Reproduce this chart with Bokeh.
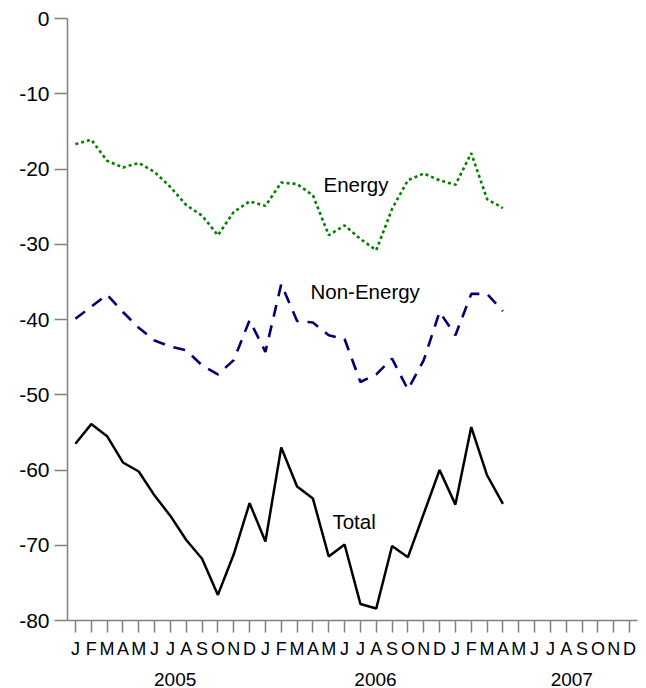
from bokeh.plotting import figure
from bokeh.models import Range1d, FixedTicker, LinearAxis
from bokeh.core.properties import value
from bokeh.embed import file_html
from bokeh.resources import INLINE

# ---- data (Jan 2005 .. Apr 2007) ----
month_letters = ["J", "F", "M", "A", "M", "J", "J", "A", "S", "O", "N", "D"]
tick_labels = month_letters * 3
years = ["2005", "2006", "2007"]
year_pos = [6.3, 18.95, 31.35]

energy = [-16.7, -16.1, -18.9, -19.8, -19.2, -20.4, -22.4, -24.8, -26.2, -28.8,
          -25.7, -24.3, -24.9, -21.8, -22.0, -23.5, -28.8, -27.5, -29.3, -30.8,
          -25.3, -21.5, -20.6, -21.5, -22.1, -17.9, -24.0, -25.2]
non_energy = [-39.9, -38.3, -36.7, -39.0, -41.1, -42.8, -43.6, -44.1, -46.1, -47.3,
              -45.4, -40.1, -44.3, -35.3, -40.2, -40.4, -42.1, -42.6, -48.3, -47.3,
              -45.2, -49.3, -45.4, -39.0, -42.1, -36.6, -36.6, -38.9]
total = [-56.5, -53.9, -55.5, -59.0, -60.2, -63.4, -66.1, -69.3, -71.8, -76.6,
         -71.2, -64.4, -69.5, -57.0, -62.2, -63.8, -71.5, -69.9, -77.8, -78.4,
         -70.1, -71.6, -65.8, -60.0, -64.6, -54.3, -60.7, -64.5]
x_idx = list(range(len(total)))

series_names = ["Energy", "Non-Energy", "Total"]
label_x = [17.72, 18.3, 17.6]
label_y = [-22.0, -36.3, -66.8]

y_ticks = [0, -10, -20, -30, -40, -50, -60, -70, -80]
y_tick_labels = ["0", "-10", "-20", "-30", "-40", "-50", "-60", "-70", "-80"]

FONT = "Liberation Sans"
AXIS_GREY = "#808080"

p = figure(width=646, height=688, output_backend="svg", toolbar_location=None,
           x_range=Range1d(-0.5, 35.5), y_range=Range1d(-80, 0),
           x_axis_location=None, y_axis_location=None,
           min_border_left=67, min_border_top=18, min_border_right=9,
           min_border_bottom=67)
p.outline_line_color = None
p.grid.visible = False
p.background_fill_color = "white"
p.border_fill_color = "white"

# y axis
yax = LinearAxis(ticker=FixedTicker(ticks=y_ticks),
                 major_label_overrides=dict(zip(y_ticks, y_tick_labels)))
yax.axis_line_color = AXIS_GREY
yax.axis_line_width = 1.5
yax.major_tick_line_color = AXIS_GREY
yax.major_tick_line_width = 1.5
yax.major_tick_out = 13
yax.major_tick_in = 0
yax.minor_tick_line_color = None
yax.major_label_standoff = 5
yax.major_label_text_font = FONT
yax.major_label_text_font_size = "21px"
yax.major_label_text_color = "black"
p.add_layout(yax, "left")

# x axis (months)
xax = LinearAxis(ticker=FixedTicker(ticks=list(range(36))),
                 major_label_overrides={i: t for i, t in enumerate(tick_labels)})
xax.axis_line_color = AXIS_GREY
xax.axis_line_width = 1.5
xax.major_tick_line_color = AXIS_GREY
xax.major_tick_line_width = 1.5
xax.major_tick_out = 12
xax.major_tick_in = 0
xax.minor_tick_line_color = None
xax.major_label_standoff = 6
xax.major_label_text_font = FONT
xax.major_label_text_font_size = "18px"
xax.major_label_text_color = "black"
p.add_layout(xax, "below")

# x axis (years)
yrax = LinearAxis(ticker=FixedTicker(ticks=year_pos),
                  major_label_overrides={pos: y for pos, y in zip(year_pos, years)})
yrax.axis_line_color = None
yrax.major_tick_line_color = None
yrax.major_tick_out = 0
yrax.major_tick_in = 0
yrax.minor_tick_line_color = None
yrax.major_label_standoff = 11
yrax.major_label_text_font = FONT
yrax.major_label_text_font_size = "19px"
yrax.major_label_text_color = "black"
p.add_layout(yrax, "below")

# series
p.line(x_idx, energy, line_color="#008000", line_width=2.6, line_dash="3 3")
p.line(x_idx, non_energy, line_color="#000070", line_width=2.6, line_dash="12 9")
p.line(x_idx, total, line_color="black", line_width=2.5)

p.text(x=label_x, y=label_y, text=series_names, text_font=value(FONT),
       text_font_size="20.5px", text_align="center", text_baseline="middle",
       text_color="black")

open("out.html", "w").write(file_html(p, INLINE))
